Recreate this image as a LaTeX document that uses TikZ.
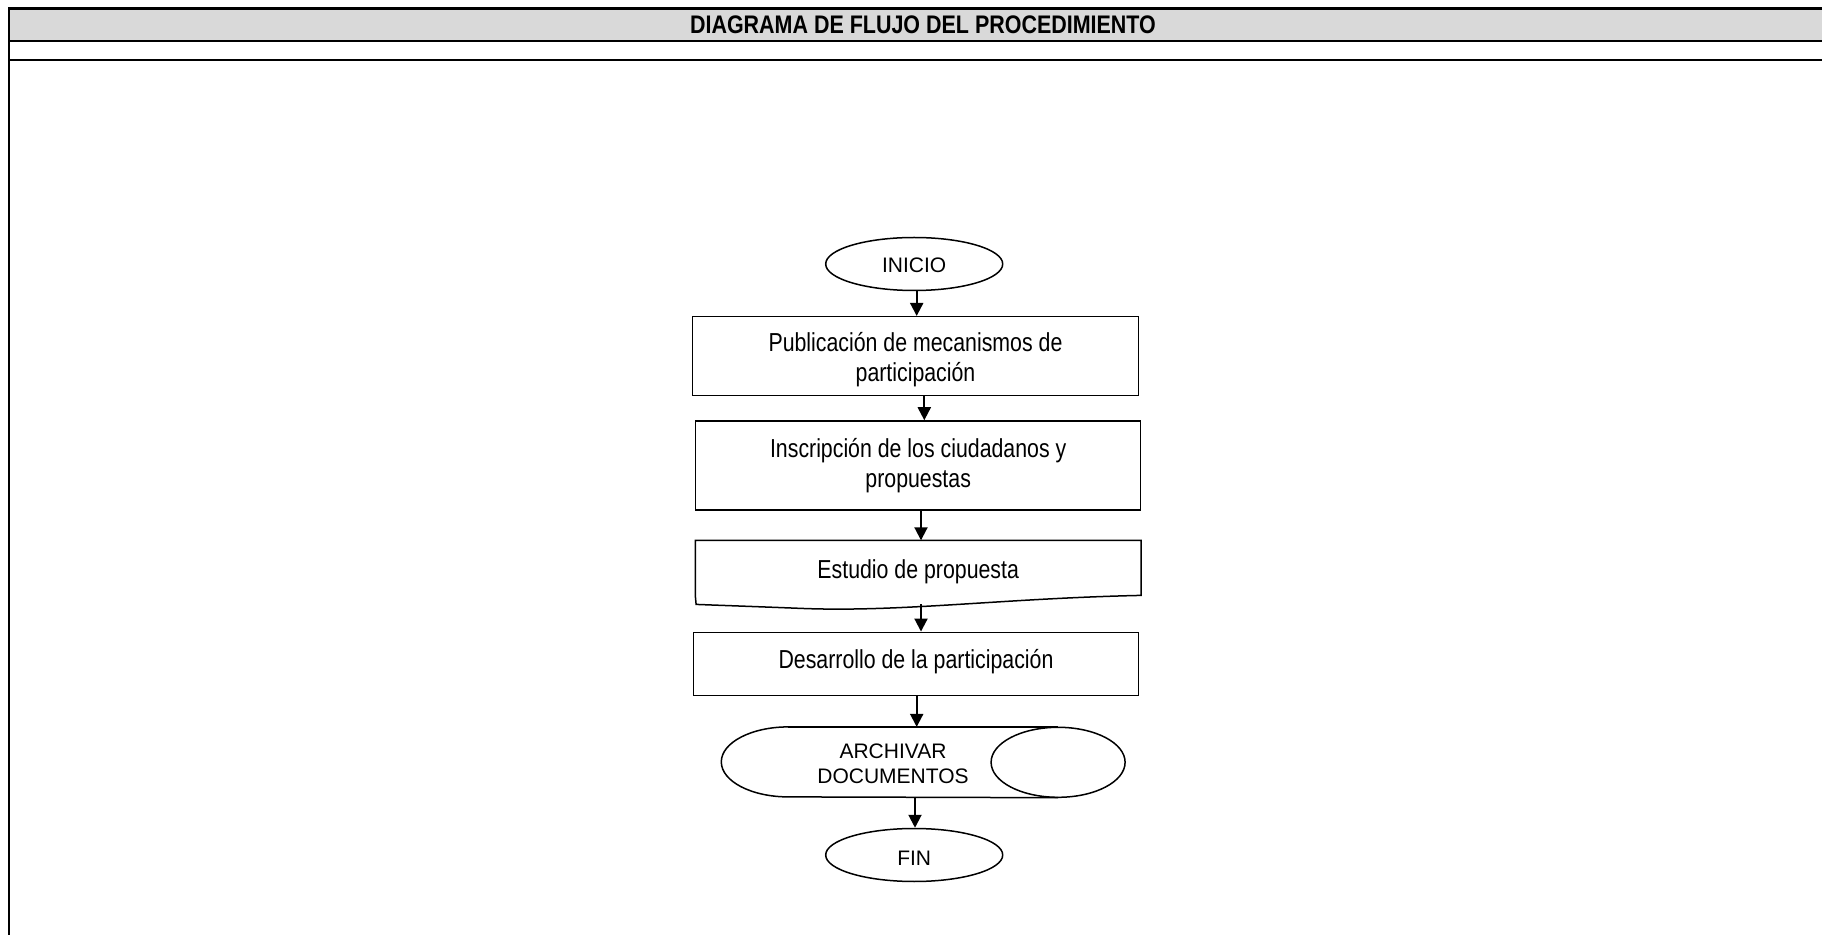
\documentclass[tikz,border=0pt]{standalone}
\usepackage{fontspec}
\setmainfont{Liberation Sans}
\newfontfamily\narrowfont[FakeStretch=0.82]{Liberation Sans}
\newfontfamily\headfont[FakeStretch=0.845]{Liberation Sans}
\usetikzlibrary{arrows.meta,shapes.geometric,calc}
\definecolor{bandgray}{HTML}{D9D9D9}
\tikzset{
  tbl/.style={line width=1.1pt},
  shp/.style={line width=0.75pt},
  procbox/.style={draw, shp, rectangle, inner sep=0pt, align=center,
    font=\narrowfont\fontsize{13pt}{15pt}\selectfont},
  termin/.style={draw, shp, ellipse, inner sep=0pt, minimum width=88.5pt,
    minimum height=26.5pt, font=\fontsize{10.5pt}{13pt}\selectfont},
  plain/.style={inner sep=0pt, align=center},
  arr/.style={line width=1pt, -{Triangle[width=6.5pt,length=6.5pt]}},
  titlefont/.style={font=\headfont\bfseries\fontsize{12.7pt}{14pt}\selectfont}
}
\begin{document}
\begin{tikzpicture}[x=0.5pt,y=-0.5pt]
\useasboundingbox (0,0) rectangle (1822,935);
\fill[white] (0,0) rectangle (1822,935);
% header table
\fill[bandgray] (8.7,8.5) rectangle (1822,40.7);
\draw[tbl] (1822,8.5) -- (8.7,8.5) -- (8.7,935);
\draw[tbl] (8.7,40.7) -- (1822,40.7);
\draw[tbl] (8.7,60) -- (1822,60);
\node[plain, titlefont] (title) at (923,24.6) {DIAGRAMA DE FLUJO DEL PROCEDIMIENTO};

% flow nodes
\node[termin] (inicio) at (914.2,264) {\rule[-2pt]{0pt}{12.7pt}INICIO};
\node[procbox, minimum width=223.2pt, minimum height=39.5pt] (pub) at (915.5,356.2)
  {\rule{0pt}{15.5pt}Publicación de mecanismos de\\participación\rule[-5pt]{0pt}{0pt}};
\node[procbox, minimum width=222.5pt, minimum height=44.5pt] (ins) at (918.2,465.5)
  {\rule{0pt}{11.8pt}Inscripción de los ciudadanos y\\propuestas\rule[-5pt]{0pt}{0pt}};
\node[plain, minimum width=222.5pt, minimum height=27.15pt,
  font=\narrowfont\fontsize{13pt}{15pt}\selectfont] (est) at (918.2,567.85)
  {\rule[-4pt]{0pt}{18.4pt}Estudio de propuesta};
\draw[shp] (est.south west) -- (est.north west) -- (est.north east) -- (est.south east)
  .. controls ($(est.south east)+(-140,3)$) and ($(est.south east)+(-240,17)$) .. ($(est.south east)+(-340,13)$)
  .. controls ($(est.south east)+(-390,11)$) and ($(est.south east)+(-420,10)$) .. ($(est.south east)+(-445,9)$)
  -- (est.south west);
\node[procbox, minimum width=222.7pt, minimum height=31.7pt] (des) at (916,664)
  {\rule[-6pt]{0pt}{16.3pt}Desarrollo de la participación};
\node[plain, minimum width=201.5pt, minimum height=35pt] (arch) at (923.2,762.3) {};
\draw[shp] ($(arch.north west)+(67,0)$) -- ($(arch.north east)+(-67,0)$);
\draw[shp] ($(arch.north west)+(67,0)$) arc[start angle=90, end angle=270, x radius=33.5pt, y radius=17.5pt]
  -- ($(arch.south east)+(-67,0)$);
\draw[shp] ($(arch.east)+(-67,0)$) ellipse[x radius=33.5pt, y radius=17.5pt];
\node[plain, font=\fontsize{10.5pt}{12.5pt}\selectfont] (archtxt) at (893,762.3)
  {\rule{0pt}{11pt}ARCHIVAR\\DOCUMENTOS\rule[-2.5pt]{0pt}{0pt}};
\node[termin] (fin) at (914.2,855) {\rule[-1pt]{0pt}{12pt}FIN};

% connectors
\draw[arr] ([xshift=1.25pt]inicio.south) -- ([xshift=1.25pt]inicio.south |- pub.north);
\draw[arr] ([xshift=4.4pt]pub.south) -- ([xshift=4.4pt]pub.south |- ins.north);
\draw[arr] ([xshift=1.4pt]ins.south) -- ([xshift=1.4pt]ins.south |- est.north);
\draw[arr] ([xshift=1.4pt,yshift=-4.5pt]est.south) -- ([xshift=1.4pt]est.south |- des.north);
\draw[arr] ([xshift=0.35pt]des.south) -- ([xshift=0.35pt]des.south |- arch.north);
\draw[arr] ([xshift=-4.1pt]arch.south) -- ([xshift=-4.1pt]arch.south |- fin.north);
\end{tikzpicture}
\end{document}
